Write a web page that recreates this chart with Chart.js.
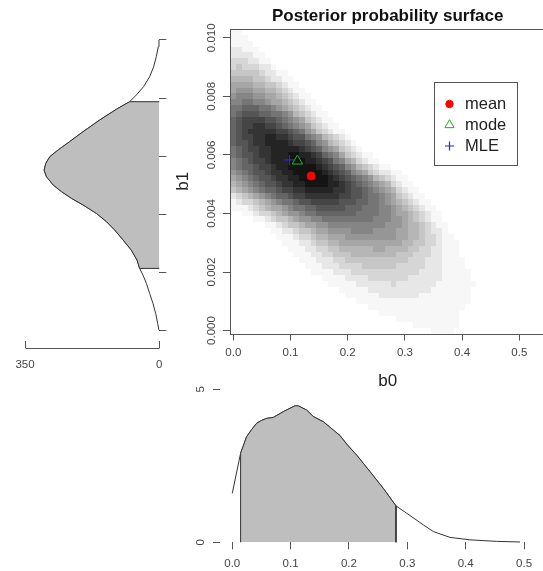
<!DOCTYPE html>
<html>
<head>
<meta charset="utf-8">
<script src="https://cdn.jsdelivr.net/npm/chart.js@4.4.1/dist/chart.umd.min.js"></script>
<style>
  html, body { margin: 0; padding: 0; background: #ffffff; width: 543px; height: 571px; overflow: hidden; position: relative; }
  canvas { position: absolute; left: 0; top: 0; }
</style>
</head>
<body>
<canvas id="surface" width="560" height="571"></canvas>
<canvas id="b1dens" width="543" height="571"></canvas>
<canvas id="b0dens" width="543" height="571"></canvas>
<script>
// ---------------- data ----------------
const b0Ticks = [0, 0.1, 0.2, 0.3, 0.4, 0.5];
const b0TickLabels = ['0.0', '0.1', '0.2', '0.3', '0.4', '0.5'];
const b1Ticks = [0, 0.002, 0.004, 0.006, 0.008, 0.010];
const b1TickLabels = ['0.000', '0.002', '0.004', '0.006', '0.008', '0.010'];

// posterior grid: cells centred on b0 = col * 0.01 and b1 = row * 0.0002
const gridB0Step = 0.01;
const gridB1Step = 0.0002;
// [row, first column, density level per column in hex (0 = none, f = highest)]
const surfaceRows = [
  [51, 0, '11'],
  [50, 0, '111'],
  [49, 0, '1111'],
  [48, 0, '22111'],
  [47, 0, '222211'],
  [46, 0, '3332211'],
  [45, 0, '34333221'],
  [44, 0, '4444432211'],
  [43, 0, '55554432211'],
  [42, 0, '666655443211'],
  [41, 0, '6777665543211'],
  [40, 0, '78887766543211'],
  [39, 0, '889988766543211'],
  [38, 0, '99aaa99876543211'],
  [37, 0, '9abbbaa9987543211'],
  [36, 0, 'abccccbba987643211'],
  [35, 0, 'abccddccba987643211'],
  [34, 0, 'abcdddddccba97643211'],
  [33, 0, 'abccddeeddcbb98754321'],
  [32, 0, 'abbcddeeeedccba8754321'],
  [31, 0, '9abccddeeeeedcba8764321'],
  [30, 0, '9abbcddeeeffeedca98643211'],
  [29, 0, '89abccdeeefffeedcb98653211'],
  [28, 0, '89aabccdeefffffedcba87543211'],
  [27, 0, '789abbcddeefffffedcba876432211'],
  [26, 0, '6789abbcddeefffffedcba987543211'],
  [25, 0, '56789abbcddeeffffeedcba987653211'],
  [24, 0, '456789aabccddeeeeeddcbba987653211'],
  [23, 0, '23456789aabccddddddccbba9987643211'],
  [22, 0, '12334567899abbcccccbbbaa99876543211'],
  [21, 0, '1112345667899aabbbbbaaa9998876543211'],
  [20, 2, '1123345677899aaaaaaa999988766543211'],
  [19, 4, '112344567788999999999888776543211'],
  [18, 6, '11234456677888888888877765543211'],
  [17, 7, '1122344566777788887777665543221'],
  [16, 8, '1112334556667777777776655433211'],
  [15, 9, '1112234455666666666665544332111'],
  [14, 10, '111223344555555665555443322111'],
  [13, 11, '11122334445555555544433322111'],
  [12, 12, '11122233444444444443332221111'],
  [11, 13, '1112223333444444333332221111'],
  [10, 14, '1111222333333333333222211111'],
  [9, 16, '11112222333333322222211111'],
  [8, 17, '11111222222322222221111111'],
  [7, 19, '11111222222222221111111'],
  [6, 20, '1111112222222111111111'],
  [5, 22, '11111111111111111111'],
  [4, 24, '11111111111111111'],
  [3, 26, '11111111111111'],
  [2, 29, '11111111111'],
  [1, 32, '11111111'],
  [0, 35, '1111']
];

// point estimates
const pointLabels = ['mean', 'mode', 'MLE'];
const pointB0 = [0.136, 0.112, 0.098];
const pointB1 = [0.00528, 0.00579, 0.00583];

// marginal posterior of b0
const b0Grid = [0.000, 0.0143, 0.0246, 0.033, 0.0418, 0.050, 0.0589, 0.0703, 0.0875, 0.1075, 0.1132, 0.1275,
  0.1389, 0.1560, 0.1732, 0.1846, 0.1960, 0.2132, 0.2360, 0.2589, 0.2806, 0.2989, 0.3274, 0.3446,
  0.3732, 0.4074, 0.4532, 0.4932];
const b0Density = [1.60, 2.91, 3.45, 3.68, 3.89, 3.98, 4.05, 4.08, 4.27, 4.46, 4.46, 4.32,
  4.11, 3.94, 3.67, 3.49, 3.21, 2.85, 2.31, 1.76, 1.19, 0.95, 0.57, 0.35,
  0.16, 0.08, 0.03, 0.01];
const b0Interval = [0.0143, 0.2806];
const b0DensTicks = [0, 5];
const b0DensTickLabels = ['0', '5'];

// marginal posterior of b1
const b1Grid = [0.00003, 0.00026, 0.00061, 0.00095, 0.00129, 0.00164, 0.00192, 0.00215, 0.00244, 0.00278,
  0.00313, 0.00347, 0.00376, 0.00404, 0.00433, 0.00456, 0.00479, 0.00502, 0.00530, 0.00553,
  0.00576, 0.00599, 0.00622, 0.00651, 0.00685, 0.00725, 0.00762, 0.00788, 0.00811, 0.00840,
  0.00874, 0.00908, 0.00943, 0.00977, 0.0100];
const b1Density = [0.9, 4.3, 9.5, 16.5, 25.2, 33.8, 42.5, 51.2, 58.1, 72.9,
  94.5, 116.2, 137.9, 163.9, 198.6, 229.0, 255.0, 276.7, 294.0, 300.1,
  295.7, 285.3, 263.7, 233.3, 198.6, 155.2, 111.9, 77.2, 59.8, 40.8,
  25.2, 14.7, 7.8, 2.6, 0.9];
const b1Interval = [0.00215, 0.00788];
const b1DensTicks = [0, 350];
const b1DensTickLabels = ['0', '350'];

// ---------------- styling ----------------
const FONT = '"Liberation Sans", Arial, Helvetica, sans-serif';
const INK = '#444444';
const AXIS = '#555555';
const CURVE = '#333333';
const SHADE = '#bebebe';
Chart.defaults.font.family = FONT;

const fixedTicks = values => scale => { scale.ticks = values.map(v => ({ value: v })); };
const labelsFrom = labels => (value, index) => labels[index];
const tickFont = { family: FONT, size: 11.5 };

// level (1..15) to grey: white for the lowest densities, near black at the top
const levelGrey = lvl => Math.round(255 - 235 * (lvl - 0.5) / 14.5);

// grey image of the posterior grid, placed through the chart's own scales
const heatmap = {
  id: 'heatmap',
  beforeDatasetsDraw(chart) {
    const { ctx, chartArea: a, scales: { x, y } } = chart;
    ctx.save();
    ctx.beginPath();
    ctx.rect(a.left, a.top, a.right - a.left, a.bottom - a.top);
    ctx.clip();
    for (const [row, first, levels] of surfaceRows) {
      const b1 = row * gridB1Step;
      const yTop = Math.round(y.getPixelForValue(b1 + gridB1Step / 2));
      const yBot = Math.round(y.getPixelForValue(b1 - gridB1Step / 2));
      for (let k = 0; k < levels.length; k++) {
        const lvl = parseInt(levels[k], 16);
        if (!lvl) continue;
        const b0 = (first + k) * gridB0Step;
        const xl = Math.round(x.getPixelForValue(b0 - gridB0Step / 2));
        const xr = Math.round(x.getPixelForValue(b0 + gridB0Step / 2));
        const g = levelGrey(lvl);
        ctx.fillStyle = 'rgb(' + g + ',' + g + ',' + g + ')';
        ctx.fillRect(xl, yTop, xr - xl, yBot - yTop);
      }
    }
    ctx.restore();
  }
};

// plot frame
const frame = {
  id: 'frame',
  afterDatasetsDraw(chart) {
    const { ctx, chartArea: a } = chart;
    const l = Math.round(a.left), t = Math.round(a.top), r = Math.round(a.right), b = Math.round(a.bottom);
    ctx.save();
    ctx.strokeStyle = AXIS;
    ctx.lineWidth = 1;
    ctx.strokeRect(l + 0.5, t + 0.5, r - l, b - t);
    ctx.restore();
  }
};

// axis lines running from the first to the last tick
const axisLines = {
  id: 'axisLines',
  afterDraw(chart, args, opts) {
    const { ctx, chartArea: a } = chart;
    ctx.save();
    ctx.strokeStyle = AXIS;
    ctx.lineWidth = 1;
    for (const spec of (opts.lines || [])) {
      const s = chart.scales[spec.scale];
      const vals = s.ticks.map(t => t.value);
      const p1 = s.getPixelForValue(Math.min(...vals));
      const p2 = s.getPixelForValue(Math.max(...vals));
      ctx.beginPath();
      if (s.isHorizontal()) {
        const yy = Math.round((s.position === 'bottom' ? a.bottom : a.top) + (spec.shift || 0)) + 0.5;
        ctx.moveTo(Math.round(p1) + 0.5, yy);
        ctx.lineTo(Math.round(p2) + 0.5, yy);
      } else {
        const xx = Math.round((s.position === 'left' ? a.left : a.right) + (spec.shift || 0)) + 0.5;
        ctx.moveTo(xx, Math.round(p1) + 0.5);
        ctx.lineTo(xx, Math.round(p2) + 0.5);
      }
      ctx.stroke();
    }
    ctx.restore();
  }
};

// boxed key for the point estimates
const keyBox = {
  id: 'keyBox',
  afterDraw(chart, args, o) {
    const { ctx } = chart;
    ctx.save();
    ctx.strokeStyle = AXIS;
    ctx.lineWidth = 1;
    ctx.strokeRect(o.left + 0.5, o.top + 0.5, o.width, o.height);
    ctx.font = o.fontSize + 'px ' + FONT;
    ctx.textBaseline = 'middle';
    ctx.textAlign = 'left';
    chart.data.datasets.forEach((ds, i) => {
      const cy = o.top + o.firstRow + i * o.rowGap;
      ctx.fillStyle = ds.pointBackgroundColor;
      ctx.strokeStyle = ds.pointBorderColor;
      ctx.lineWidth = ds.pointBorderWidth;
      Chart.helpers.drawPoint(ctx, {
        pointStyle: ds.pointStyle, radius: o.symbolRadius[i], borderWidth: ds.pointBorderWidth, rotation: 0
      }, o.symbolX, cy);
      ctx.fillStyle = '#222222';
      ctx.fillText(ds.label, o.textX, cy);
    });
    ctx.restore();
  }
};

const markerStyles = [
  { pointStyle: 'circle', pointRadius: 4, pointBackgroundColor: '#ff0000', pointBorderColor: '#ff0000', pointBorderWidth: 1 },
  { pointStyle: 'triangle', pointRadius: 6, pointBackgroundColor: 'rgba(0,0,0,0)', pointBorderColor: '#1fb01f', pointBorderWidth: 1 },
  { pointStyle: 'cross', pointRadius: 5, pointBackgroundColor: 'rgba(0,0,0,0)', pointBorderColor: '#2a2ac8', pointBorderWidth: 1.2 }
];

const common = { responsive: false, animation: false, devicePixelRatio: 1, events: [] };

// ---------------- joint posterior surface ----------------
new Chart(document.getElementById('surface'), {
  type: 'scatter',
  data: {
    datasets: pointLabels.map((name, i) => Object.assign({
      label: name,
      data: [{ x: pointB0[i], y: pointB1[i] }]
    }, markerStyles[i]))
  },
  options: Object.assign({}, common, {
    layout: { padding: { left: 169.9, right: 14.4, top: 0, bottom: 177.5 } },
    plugins: {
      legend: { display: false },
      tooltip: { enabled: false },
      title: {
        display: true, text: 'Posterior probability surface', fullSize: false, color: '#111111',
        font: { family: FONT, size: 17, weight: 'bold' }, padding: { top: 6, bottom: 2.6 }
      },
      keyBox: { left: 434, top: 82, width: 83, height: 83, symbolX: 449.5, textX: 465, firstRow: 22, rowGap: 21,
        fontSize: 16.5, symbolRadius: [3.7, 5.3, 4.5] }
    },
    scales: {
      x: {
        type: 'linear', position: 'bottom', min: -0.006, max: 0.546,
        afterBuildTicks: fixedTicks(b0Ticks),
        afterFit: s => { s.height = 60; },
        grid: { drawOnChartArea: false, drawTicks: true, tickLength: 7, color: AXIS },
        border: { display: false },
        ticks: { callback: labelsFrom(b0TickLabels), color: INK, font: tickFont, padding: 5, maxRotation: 0, autoSkip: false },
        title: { display: true, text: 'b0', color: '#222222', font: { family: FONT, size: 17 }, padding: { top: 0, bottom: 2.3 } }
      },
      y: {
        type: 'linear', position: 'left', min: -0.0001, max: 0.0103,
        afterBuildTicks: fixedTicks(b1Ticks),
        afterFit: s => { s.width = 60; },
        grid: { drawOnChartArea: false, drawTicks: true, tickLength: 7, color: AXIS },
        border: { display: false },
        ticks: { callback: labelsFrom(b1TickLabels), color: INK, font: tickFont, minRotation: 90, maxRotation: 90,
          crossAlign: 'center', padding: -3.5, autoSkip: false },
        title: { display: true, text: 'b1', color: '#222222', font: { family: FONT, size: 17 }, padding: { top: 2.9, bottom: 0 } }
      }
    }
  }),
  plugins: [heatmap, frame, keyBox]
});

// ---------------- marginal of b1 (drawn sideways) ----------------
const b1Curve = b1Grid.map((v, i) => ({ x: b1Density[i], y: v }));
const b1Shade = [{ x: 0, y: b1Interval[0] }]
  .concat(b1Curve.filter(p => p.y >= b1Interval[0] && p.y <= b1Interval[1]))
  .concat([{ x: 0, y: b1Interval[1] }]);

new Chart(document.getElementById('b1dens'), {
  type: 'scatter',
  data: {
    datasets: [
      { data: b1Shade, showLine: true, fill: 'shape', backgroundColor: SHADE, borderColor: CURVE, borderWidth: 1, pointRadius: 0, clip: false },
      { data: b1Curve, showLine: true, fill: false, borderColor: CURVE, borderWidth: 1, pointRadius: 0, clip: false }
    ]
  },
  options: Object.assign({}, common, {
    layout: { padding: { left: 25, right: 363.7, top: 29, bottom: 200 } },
    plugins: {
      legend: { display: false }, tooltip: { enabled: false },
      axisLines: { lines: [{ scale: 'x', shift: 7 }, { scale: 'y' }] }
    },
    scales: {
      x: {
        type: 'linear', position: 'bottom', reverse: true, min: 0, max: 350,
        afterBuildTicks: fixedTicks(b1DensTicks),
        afterFit: s => { s.height = 30; },
        grid: { drawOnChartArea: false, drawTicks: true, tickLength: 7, color: AXIS },
        border: { display: false },
        ticks: { callback: labelsFrom(b1DensTickLabels), color: INK, font: tickFont, padding: 10, maxRotation: 0, autoSkip: false }
      },
      y: {
        type: 'linear', position: 'right', min: -0.000344, max: 0.010378,
        afterBuildTicks: fixedTicks(b1Ticks),
        afterFit: s => { s.width = 20; },
        grid: { drawOnChartArea: false, drawTicks: true, tickLength: 7, color: AXIS },
        border: { display: false },
        ticks: { display: false }
      }
    }
  }),
  plugins: [axisLines]
});

// ---------------- marginal of b0 ----------------
const b0Curve = b0Grid.map((v, i) => ({ x: v, y: b0Density[i] }));
const b0Shade = [{ x: b0Interval[0], y: 0 }]
  .concat(b0Curve.filter(p => p.x >= b0Interval[0] && p.x <= b0Interval[1]))
  .concat([{ x: b0Interval[1], y: 0 }]);

new Chart(document.getElementById('b0dens'), {
  type: 'scatter',
  data: {
    datasets: [
      { data: b0Shade, showLine: true, fill: 'shape', backgroundColor: SHADE, borderColor: CURVE, borderWidth: 1, pointRadius: 0, clip: false },
      { data: b0Curve, showLine: true, fill: false, borderColor: CURVE, borderWidth: 1, pointRadius: 0, clip: false }
    ]
  },
  options: Object.assign({}, common, {
    layout: { padding: { left: 180, right: 7.3, top: 389.3, bottom: 0 } },
    plugins: {
      legend: { display: false }, tooltip: { enabled: false },
      axisLines: { lines: [{ scale: 'x' }, { scale: 'y' }] }
    },
    scales: {
      x: {
        type: 'linear', position: 'bottom', min: -0.021, max: 0.52,
        afterBuildTicks: fixedTicks(b0Ticks),
        afterFit: s => { s.height = 28.7; },
        grid: { drawOnChartArea: false, drawTicks: true, tickLength: 7, color: AXIS },
        border: { display: false },
        ticks: { callback: labelsFrom(b0TickLabels), color: INK, font: tickFont, padding: 8, maxRotation: 0, autoSkip: false }
      },
      y: {
        type: 'linear', position: 'left', min: 0, max: 5,
        afterBuildTicks: fixedTicks(b0DensTicks),
        afterFit: s => { s.width = 40; },
        grid: { drawOnChartArea: false, drawTicks: true, tickLength: 7, color: AXIS },
        border: { display: false },
        ticks: { callback: labelsFrom(b0DensTickLabels), color: INK, font: tickFont, minRotation: 90, maxRotation: 90,
          crossAlign: 'center', padding: 8.8, autoSkip: false }
      }
    }
  }),
  plugins: [axisLines]
});
</script>
</body>
</html>
